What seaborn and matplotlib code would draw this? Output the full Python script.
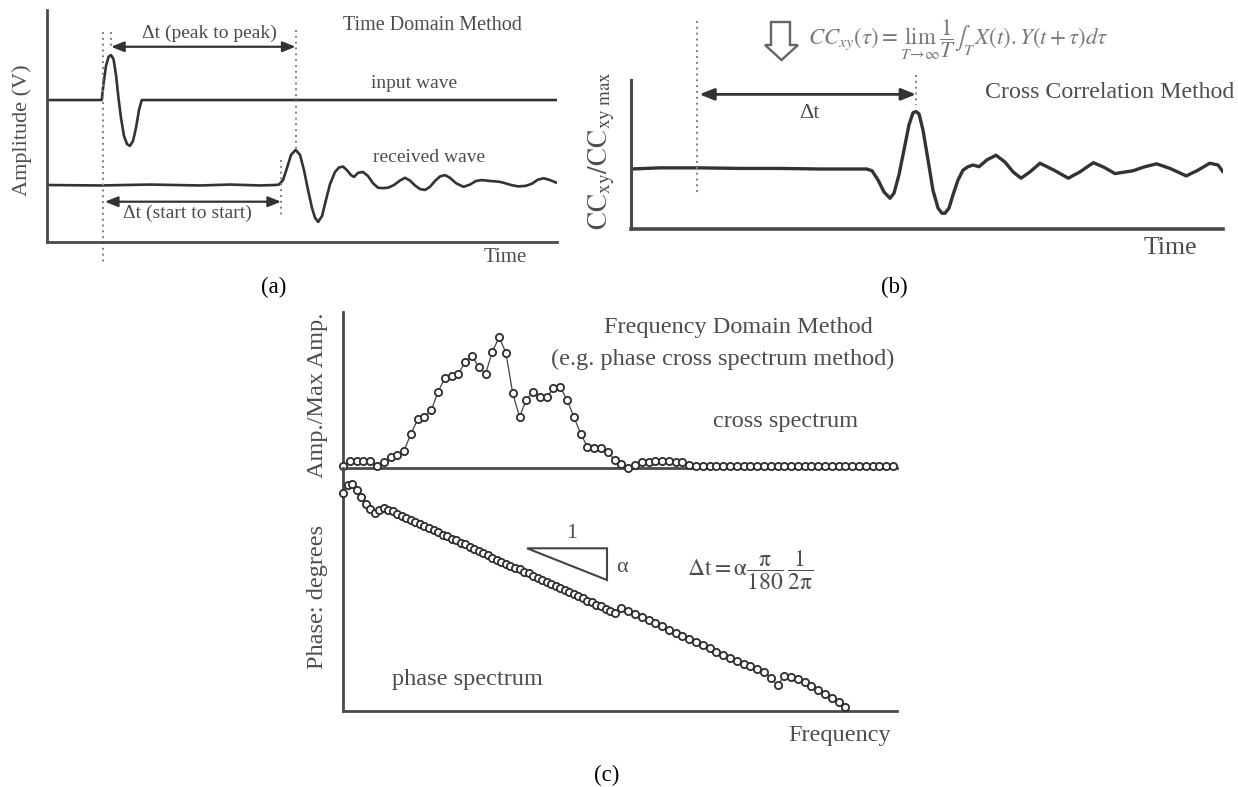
import numpy as np
import matplotlib
matplotlib.use("Agg")
import matplotlib.pyplot as plt
import seaborn as sns
from matplotlib.patches import Polygon

# ---------------- data ----------------
# (a) time domain method: input pulse and received wave (amplitude, input peak = 1)
time_in = [0, 10.78, 11.13, 11.62, 12.11, 12.60, 13.09, 13.58, 14.07, 14.56, 15.15,
           15.74, 16.32, 16.91, 17.50, 18.09, 18.62, 100]
amp_in = [0, 0, 0.36, 0.76, 0.96, 1.0, 0.91, 0.56, 0.04, -0.40, -0.80,
          -0.98, -1.02, -0.91, -0.62, -0.22, 0, 0]
time_rx = [0, 10.44, 20.24, 30.04, 35.92, 41.8, 44.74, 45.53, 46.31, 47.09, 47.88,
           48.78, 49.64, 50.42, 51.21, 51.99, 52.58, 53.2, 53.95, 54.73, 55.52,
           56.5, 57.28, 58.06, 58.85, 59.63, 60.22, 61.0, 61.98, 62.96, 63.94,
           64.92, 65.9, 66.88, 68.06, 69.23, 70.21, 71.19, 72.17, 73.15, 74.13,
           75.11, 76.09, 77.07, 78.05, 79.03, 80.21, 81.68, 82.95, 84.13, 85.26,
           86.87, 88.83, 89.81, 90.99, 92.36, 93.83, 95.1, 96.28, 97.41, 98.62, 99.92]
amp_rx = [0, -0.01, 0.01, -0.01, 0.01, -0.01, 0, 0.01, 0.11, 0.38, 0.67,
          0.78, 0.67, 0.33, -0.11, -0.51, -0.73, -0.82, -0.69, -0.33, 0.02,
          0.29, 0.39, 0.41, 0.33, 0.22, 0.18, 0.27, 0.29, 0.2, 0.04,
          -0.06, -0.07, -0.06, 0, 0.1, 0.16, 0.1, -0.01, -0.09, -0.11,
          -0.04, 0.09, 0.19, 0.22, 0.16, 0.04, -0.04, 0.01, 0.09, 0.11,
          0.09, 0.07, 0.04, 0, -0.03, -0.02, 0.03, 0.12, 0.15, 0.11, 0.05]
t_start_in = 11.09     # dotted "start" marker of the input pulse
t_start_rx = 45.93     # dotted "start" marker of the received wave

# (b) cross correlation method: CCxy / CCxy max versus lag time
time_cc = [0, 4.9, 11.66, 18.41, 25.17, 31.93, 37.0, 39.81, 40.71, 41.72, 42.74,
           43.75, 44.43, 45.27, 46.11, 46.96, 47.64, 48.14, 48.65, 49.32, 50.17,
           51.01, 51.86, 52.53, 53.04, 53.72, 54.39, 55.24, 56.08, 56.93, 57.77,
           58.78, 60.14, 61.66, 63.18, 64.53, 65.88, 67.4, 69.09, 71.45, 73.87,
           75.84, 78.1, 79.9, 81.76, 84.8, 86.82, 88.8, 91.05, 93.8, 95.78,
           97.75, 99.16, 100]
cc_norm = [0, 0.02, 0.02, 0.01, 0.01, 0.0, 0.0, 0, -0.03, -0.19, -0.4,
           -0.51, -0.42, -0.1, 0.33, 0.77, 0.98, 1.0, 0.96, 0.68, 0.16,
           -0.37, -0.68, -0.77, -0.77, -0.68, -0.45, -0.19, -0.02, 0.04, 0.07,
           0.04, 0.16, 0.24, 0.12, -0.05, -0.16, -0.05, 0.10, -0.02, -0.16,
           -0.05, 0.11, 0.03, -0.08, -0.03, 0.04, 0.09, 0.01, -0.12, -0.02,
           0.10, 0.07, -0.05]
t_zero_lag = 11.15

# (c) frequency domain method: cross spectrum (Amp / Max Amp) per frequency bin
cross_amp = [0.01, 0.05, 0.05, 0.05, 0.05, 0.01, 0.04, 0.08, 0.10, 0.13,
             0.26, 0.37, 0.39, 0.44, 0.58, 0.69, 0.70, 0.72, 0.81, 0.86,
             0.77, 0.72, 0.89, 1.00, 0.88, 0.57, 0.39, 0.52, 0.58, 0.54,
             0.54, 0.61, 0.62, 0.52, 0.39, 0.26, 0.16, 0.15, 0.15, 0.12,
             0.06, 0.03, 0.00, 0.02, 0.04, 0.045, 0.05, 0.05, 0.05, 0.045,
             0.04, 0.02, 0.015, 0.015, 0.015, 0.01, 0.015, 0.015, 0.015, 0.015,
             0.01, 0.015, 0.015, 0.015, 0.015, 0.015, 0.01, 0.015, 0.015, 0.015,
             0.015, 0.015, 0.015, 0.01, 0.015, 0.015, 0.015, 0.015, 0.015, 0.015,
             0.015, 0.015]
# phase spectrum (degrees): fine-resolution part then coarse part
phase_fine = [-256, -173, -165, -223, -293, -363, -413, -448, -423, -398,
              -420, -437, -462, -478, -503, -520, -545, -561, -586, -602,
              -627, -643, -668, -685, -709, -726, -751, -767, -792, -808,
              -833, -850, -876, -898, -925, -945, -962, -980, -998, -1015,
              -1040, -1056, -1081, -1098, -1122, -1139, -1163, -1180, -1205, -1221,
              -1246, -1263, -1287, -1304, -1329, -1345, -1370, -1386, -1411, -1428,
              -1452]
phase_coarse = [-1398, -1429, -1461, -1493, -1524, -1555, -1587, -1618, -1650, -1681,
                -1713, -1744, -1776, -1807, -1839, -1870, -1902, -1933, -1958, -1978,
                -2008, -2043, -2098, -2173, -2083, -2090, -2113, -2143, -2183, -2218,
                -2258, -2298, -2343, -2388]

# frequency bins
freq_cross = np.arange(len(cross_amp))
freq_phase = np.concatenate([np.arange(len(phase_fine)) * 2 / 3,
                             np.arange(41, 41 + len(phase_coarse))])
phase_deg = phase_fine + phase_coarse

# ---------------- styling ----------------
sns.set_theme(style="white")
plt.rcParams["font.family"] = ["Liberation Serif", "DejaVu Serif"]
plt.rcParams["mathtext.fontset"] = "stix"

W, H = 1238, 787
fig = plt.figure(figsize=(W / 100, H / 100), dpi=100)
fig.patch.set_facecolor("white")

LINE = "#333333"
AXC = "#4a4a4a"
TXT = "#4d4d4d"
DOT = "#808080"


def px_axes(l, t, r, b):
    ax = fig.add_axes([l / W, 1 - b / H, (r - l) / W, (b - t) / H])
    ax.patch.set_alpha(0)
    ax.set_xticks([])
    ax.set_yticks([])
    for s in ("top", "right"):
        ax.spines[s].set_visible(False)
    for s in ("left", "bottom"):
        ax.spines[s].set_color(AXC)
        ax.spines[s].set_linewidth(2.0)
    return ax


# ---------------- (a) ----------------
ax_a = px_axes(46.7, 10, 557, 241.7)
off_in, off_rx = 3.149, 1.26
sns.lineplot(x=time_in, y=np.array(amp_in) + off_in, ax=ax_a, color=LINE,
             linewidth=1.9, estimator=None, sort=False)
sns.lineplot(x=time_rx, y=np.array(amp_rx) + off_rx, ax=ax_a, color=LINE,
             linewidth=1.9, estimator=None, sort=False)
ax_a.set_xlim(0, 100)
ax_a.set_ylim(0, 5.15)
ax_a.set_xlabel("")
ax_a.set_ylabel("")

t_pk_in = time_in[int(np.argmax(amp_in))]
t_pk_rx = time_rx[int(np.argmax(amp_rx))]
y_pk_rx = max(amp_rx) + off_rx
dkw = dict(ls=(0, (1, 2)), color=DOT, lw=1.4, clip_on=False)
ax_a.plot([t_start_in, t_start_in], [4.66, -0.52], **dkw)
ax_a.plot([t_pk_in, t_pk_in], [4.66, 4.33], **dkw)
ax_a.plot([t_pk_rx, t_pk_rx], [4.70, y_pk_rx], **dkw)
ax_a.plot([t_start_rx, t_start_rx], [1.82, 0.53], **dkw)
akw = dict(arrowstyle="<|-|>,head_length=0.55,head_width=0.22", color=LINE, lw=1.6,
           shrinkA=0, shrinkB=0, mutation_scale=14)
ax_a.annotate("", xy=(t_pk_rx, 4.333), xytext=(t_pk_in, 4.333), arrowprops=akw,
              annotation_clip=False)
ax_a.annotate("", xy=(t_start_rx, 0.889), xytext=(t_start_in + 0.3, 0.889),
              arrowprops=akw, annotation_clip=False)

# ---------------- (b) ----------------
ax_b = px_axes(631, 80, 1223, 229.3)
ax_b.spines["left"].set_linewidth(2.2)
ax_b.spines["bottom"].set_linewidth(2.6)
sns.lineplot(x=time_cc, y=cc_norm, ax=ax_b, color=LINE, linewidth=2.4,
             estimator=None, sort=False)
ax_b.set_xlim(0, 100)
ax_b.set_ylim(-1.05, 1.55)
ax_b.set_xlabel("")
ax_b.set_ylabel("")
t_pk_cc = time_cc[int(np.argmax(cc_norm))]
ax_b.plot([t_zero_lag, t_zero_lag], [2.57, -0.42], **dkw)
ax_b.plot([t_pk_cc, t_pk_cc], [1.64, 1.12], **dkw)
ax_b.annotate("", xy=(t_pk_cc, 1.30), xytext=(t_zero_lag + 0.4, 1.30),
              arrowprops=dict(akw, lw=2.0, mutation_scale=16), annotation_clip=False)

# ---------------- (c) ----------------
ax_c1 = px_axes(343, 311.7, 897, 467.7)
ax_c2 = px_axes(343, 467.7, 897, 710.7)
mk = dict(marker="o", markersize=5.2, markerfacecolor="white",
          markeredgecolor="#2e2e2e", markeredgewidth=1.3)
sns.lineplot(x=freq_cross, y=cross_amp, ax=ax_c1, color="#444444", linewidth=0.9,
             estimator=None, sort=False, **mk)
sns.lineplot(x=freq_phase, y=phase_deg, ax=ax_c2, color="#444444", linewidth=0.9,
             estimator=None, sort=False, **mk)
for ax in (ax_c1, ax_c2):
    ax.set_xlim(0, 81.6)
    ax.set_xlabel("")
    ax.set_ylabel("")
    for ln in ax.lines:
        ln.set_clip_on(False)
        ln.set_zorder(4)
ax_c1.set_ylim(0, 1.196)
ax_c2.set_ylim(-2430, 0)

# ---------------- text / annotation overlay (pixel coordinates) ----------------
ov = fig.add_axes([0, 0, 1, 1])
ov.set_xlim(0, W)
ov.set_ylim(H, 0)
ov.axis("off")
ov.patch.set_alpha(0)
ov.set_zorder(10)


def t(x, y, s, size, color=TXT, ha="center", va="center", **kw):
    ov.text(x, y, s, fontsize=size, color=color, ha=ha, va=va, **kw)


# (a)
t(432, 25, "Time Domain Method", 14.5)
t(209, 33, "Δt (peak to peak)", 14)
t(414, 83, "input wave", 14)
t(429, 157, "received wave", 14)
t(187, 213, "Δt (start to start)", 14)
t(505, 258, "Time", 15)
t(22, 130, "Amplitude (V)", 16, rotation=90)
t(274, 287, "(a)", 16.5, color="black")

# (b)
t(808, 40, r"$CC_{xy}(\tau)=\lim_{T\to\infty}\dfrac{1}{T}\int_{T}X(t).Y(t+\tau)d\tau$",
  16.5, color="#7a7a7a", ha="left")
arrow_shape = [(771, 22), (790, 22), (790, 45), (798, 45), (781.5, 60),
               (765, 45), (771, 45)]
ov.add_patch(Polygon(arrow_shape, closed=True, fill=False, edgecolor="#666666",
                     linewidth=1.7))
t(809, 114, "Δt", 16)
t(1234, 93, "Cross Correlation Method", 17.2, ha="right")
t(602, 150, r"$\mathrm{CC_{xy}/CC_{xy\ max}}$", 19.5, rotation=90)
t(1170, 248, "Time", 18.5)
t(894, 287, "(b)", 16.5, color="black")

# (c)
t(738, 327, "Frequency Domain Method", 17.5)
t(723, 359, "(e.g. phase cross spectrum method)", 17.5)
t(786, 422, "cross spectrum", 17.5)
t(318, 395, "Amp./Max Amp.", 17.5, rotation=90)
t(317, 597, "Phase: degrees", 17.5, rotation=90)
ov.add_patch(Polygon([(527, 548.3), (607, 548.3), (607, 580)], closed=True,
                     fill=False, edgecolor="#444444", linewidth=1.5))
t(572, 533, "1", 16)
t(622, 567, "α", 16)
t(687, 570, r"$\mathrm{\Delta t{=}\alpha}\dfrac{\mathrm{\pi}}{180}\,\dfrac{1}{2\mathrm{\pi}}$",
  17, ha="left")
t(467, 680, "phase spectrum", 17.5)
t(840, 735, "Frequency", 17.5)
t(607, 775, "(c)", 16.5, color="black")

fig.savefig("out.png", dpi=100, facecolor="white")
